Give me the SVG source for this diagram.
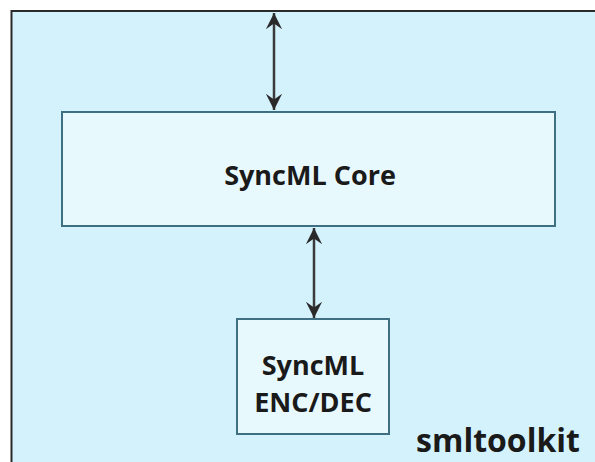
<svg xmlns="http://www.w3.org/2000/svg" width="595" height="462" viewBox="0 0 595 462">
  <style>
    .frame { fill: #d3f2fc; stroke: #2b2b2b; stroke-width: 2; }
    .box { fill: #e8f9fe; stroke: #3f6f82; stroke-width: 2; }
    .label { font-family: "Open Sans", "Liberation Sans", sans-serif; font-weight: bold; fill: #1a1a1a; text-anchor: middle; }
    .link { stroke: #3a3a3a; stroke-width: 2.5; fill: none; marker-start: url(#head); marker-end: url(#head); }
  </style>
  <defs>
    <marker id="head" viewBox="0 0 10 10" refX="10" refY="5" markerWidth="6.5" markerHeight="7" orient="auto-start-reverse" markerUnits="strokeWidth">
      <path d="M0,0 L10,5 L0,10 L3.5,5 Z" fill="#2a2a2a"/>
    </marker>
  </defs>

  <rect x="0" y="0" width="595" height="462" fill="#ffffff"/>

  <!-- smltoolkit container -->
  <g id="smltoolkit">
    <rect class="frame" x="11.5" y="11" width="600" height="470"/>
    <text class="label" x="498" y="452" font-size="32">smltoolkit</text>
  </g>

  <!-- connectors -->
  <g id="connectors">
    <line class="link" x1="274" y1="13" x2="274" y2="110"/>
    <line class="link" x1="314" y1="228" x2="314" y2="318"/>
  </g>

  <g id="core">
    <rect class="box" x="62" y="112" width="493" height="114"/>
    <text class="label" x="310" y="185" font-size="27">SyncML Core</text>
  </g>

  <g id="encdec">
    <rect class="box" x="237" y="319" width="152" height="115"/>
    <text class="label" x="313" y="375" font-size="27">SyncML</text>
    <text class="label" x="313" y="412" font-size="27">ENC/DEC</text>
  </g>
</svg>
